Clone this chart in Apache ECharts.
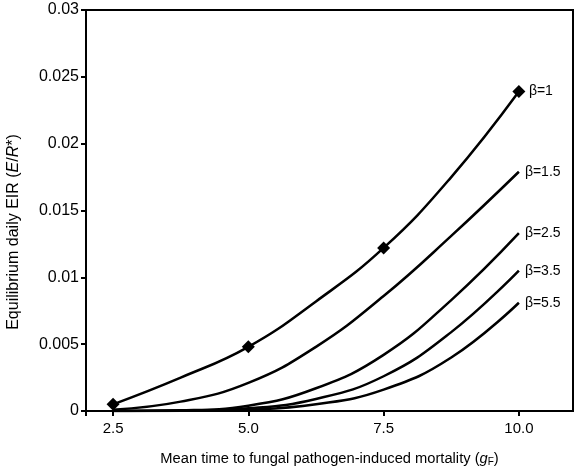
<!DOCTYPE html>
<html>
<head>
<meta charset="utf-8">
<script src="https://cdn.jsdelivr.net/npm/echarts@6/dist/echarts.min.js"></script>
<style>html,body{margin:0;padding:0;background:#fff}#c{width:580px;height:473px}</style>
</head>
<body>
<div id="c"></div>
<script>
var xValues = [2.5, 3.75, 5.0, 6.25, 7.5, 8.75, 10.0];
var beta1   = [0.0005, 0.0025, 0.0048, 0.0082, 0.0122, 0.0175, 0.0239];
var beta15  = [0.0001, 0.0007, 0.0021, 0.0048, 0.0086, 0.0131, 0.0179];
var beta25  = [0.0000, 0.00005, 0.0004, 0.0017, 0.0042, 0.0083, 0.0133];
var beta35  = [0.0000, 0.00002, 0.0002, 0.0009, 0.0026, 0.0059, 0.0105];
var beta55  = [0.0000, 0.00001, 0.0001, 0.0005, 0.0016, 0.0040, 0.0081];
var seriesNames = ['β=1', 'β=1.5', 'β=2.5', 'β=3.5', 'β=5.5'];
var markerX = [2.5, 5.0, 7.5, 10.0];
var xTickLabels = [2.5, 5.0, 7.5, 10.0];

var font = 'Liberation Sans, Arial, sans-serif';
function pairs(ys){ return xValues.map(function(x,i){ return [x, ys[i]]; }); }
var allSeries = [beta1, beta15, beta25, beta35, beta55];

var series = allSeries.map(function(ys, k){
  return {
    name: seriesNames[k],
    type: 'line',
    data: pairs(ys),
    smooth: 0.45,
    showSymbol: k === 0,
    symbol: k === 0 ? function(v){ return markerX.indexOf(v[0]) >= 0 ? 'diamond' : 'none'; } : 'none',
    symbolSize: 13,
    itemStyle: {color: '#000'},
    lineStyle: {color: '#000', width: 2.5},
    z: 3,
    endLabel: {show: true, formatter: seriesNames[k], color: '#000', fontFamily: font, fontSize: 14, distance: k === 0 ? 10 : 6},
    animation: false
  };
});

var chart = echarts.init(document.getElementById('c'));
chart.setOption({
  animation: false,
  grid: {left: 86, top: 10, right: 7, bottom: 62, show: true, borderColor: '#000', borderWidth: 2, containLabel: false, outerBoundsMode: 'none'},
  xAxis: {
    type: 'value', min: 2, max: 11,
    splitLine: {show: false},
    axisLine: {lineStyle: {color: '#000', width: 2}},
    axisTick: {show: true, length: 5, lineStyle: {color: '#000', width: 2}, customValues: [2].concat(xTickLabels)},
    axisLabel: {customValues: xTickLabels, formatter: function(v){ return v.toFixed(1); }, color: '#000', fontFamily: font, fontSize: 15, margin: 10},
    name: '{n|Mean time to fungal pathogen-induced mortality (}{i|g}{s|F}{n|)}',
    nameLocation: 'middle', nameGap: 40,
    nameTextStyle: {rich: {
      n: {fontFamily: font, fontSize: 14.7, color: '#000'},
      i: {fontFamily: font, fontSize: 14.7, fontStyle: 'italic', color: '#000'},
      s: {fontFamily: font, fontSize: 10, color: '#000', verticalAlign: 'bottom', padding: [6,0,0,0]}
    }}
  },
  yAxis: {
    type: 'value', min: 0, max: 0.03, interval: 0.005,
    splitLine: {show: false},
    axisLine: {show: true, lineStyle: {color: '#000', width: 2}},
    axisTick: {show: true, length: 5, lineStyle: {color: '#000', width: 2}},
    axisLabel: {color: '#000', fontFamily: font, fontSize: 16, margin: 7,
      formatter: function(v){ return String(parseFloat(v.toFixed(4))); }}
  },
  graphic: [{
    type: 'text', x: 6, y: 232, rotation: Math.PI / 2,
    style: {
      text: '{n|Equilibrium daily EIR (}{i|E}{n|/}{i|R}{n|*)}',
      align: 'center', verticalAlign: 'top',
      rich: {
        n: {fontFamily: font, fontSize: 16, fill: '#000'},
        i: {fontFamily: font, fontSize: 16, fontStyle: 'italic', fill: '#000'}
      }
    }
  }],
  series: series
});
</script>
</body>
</html>
